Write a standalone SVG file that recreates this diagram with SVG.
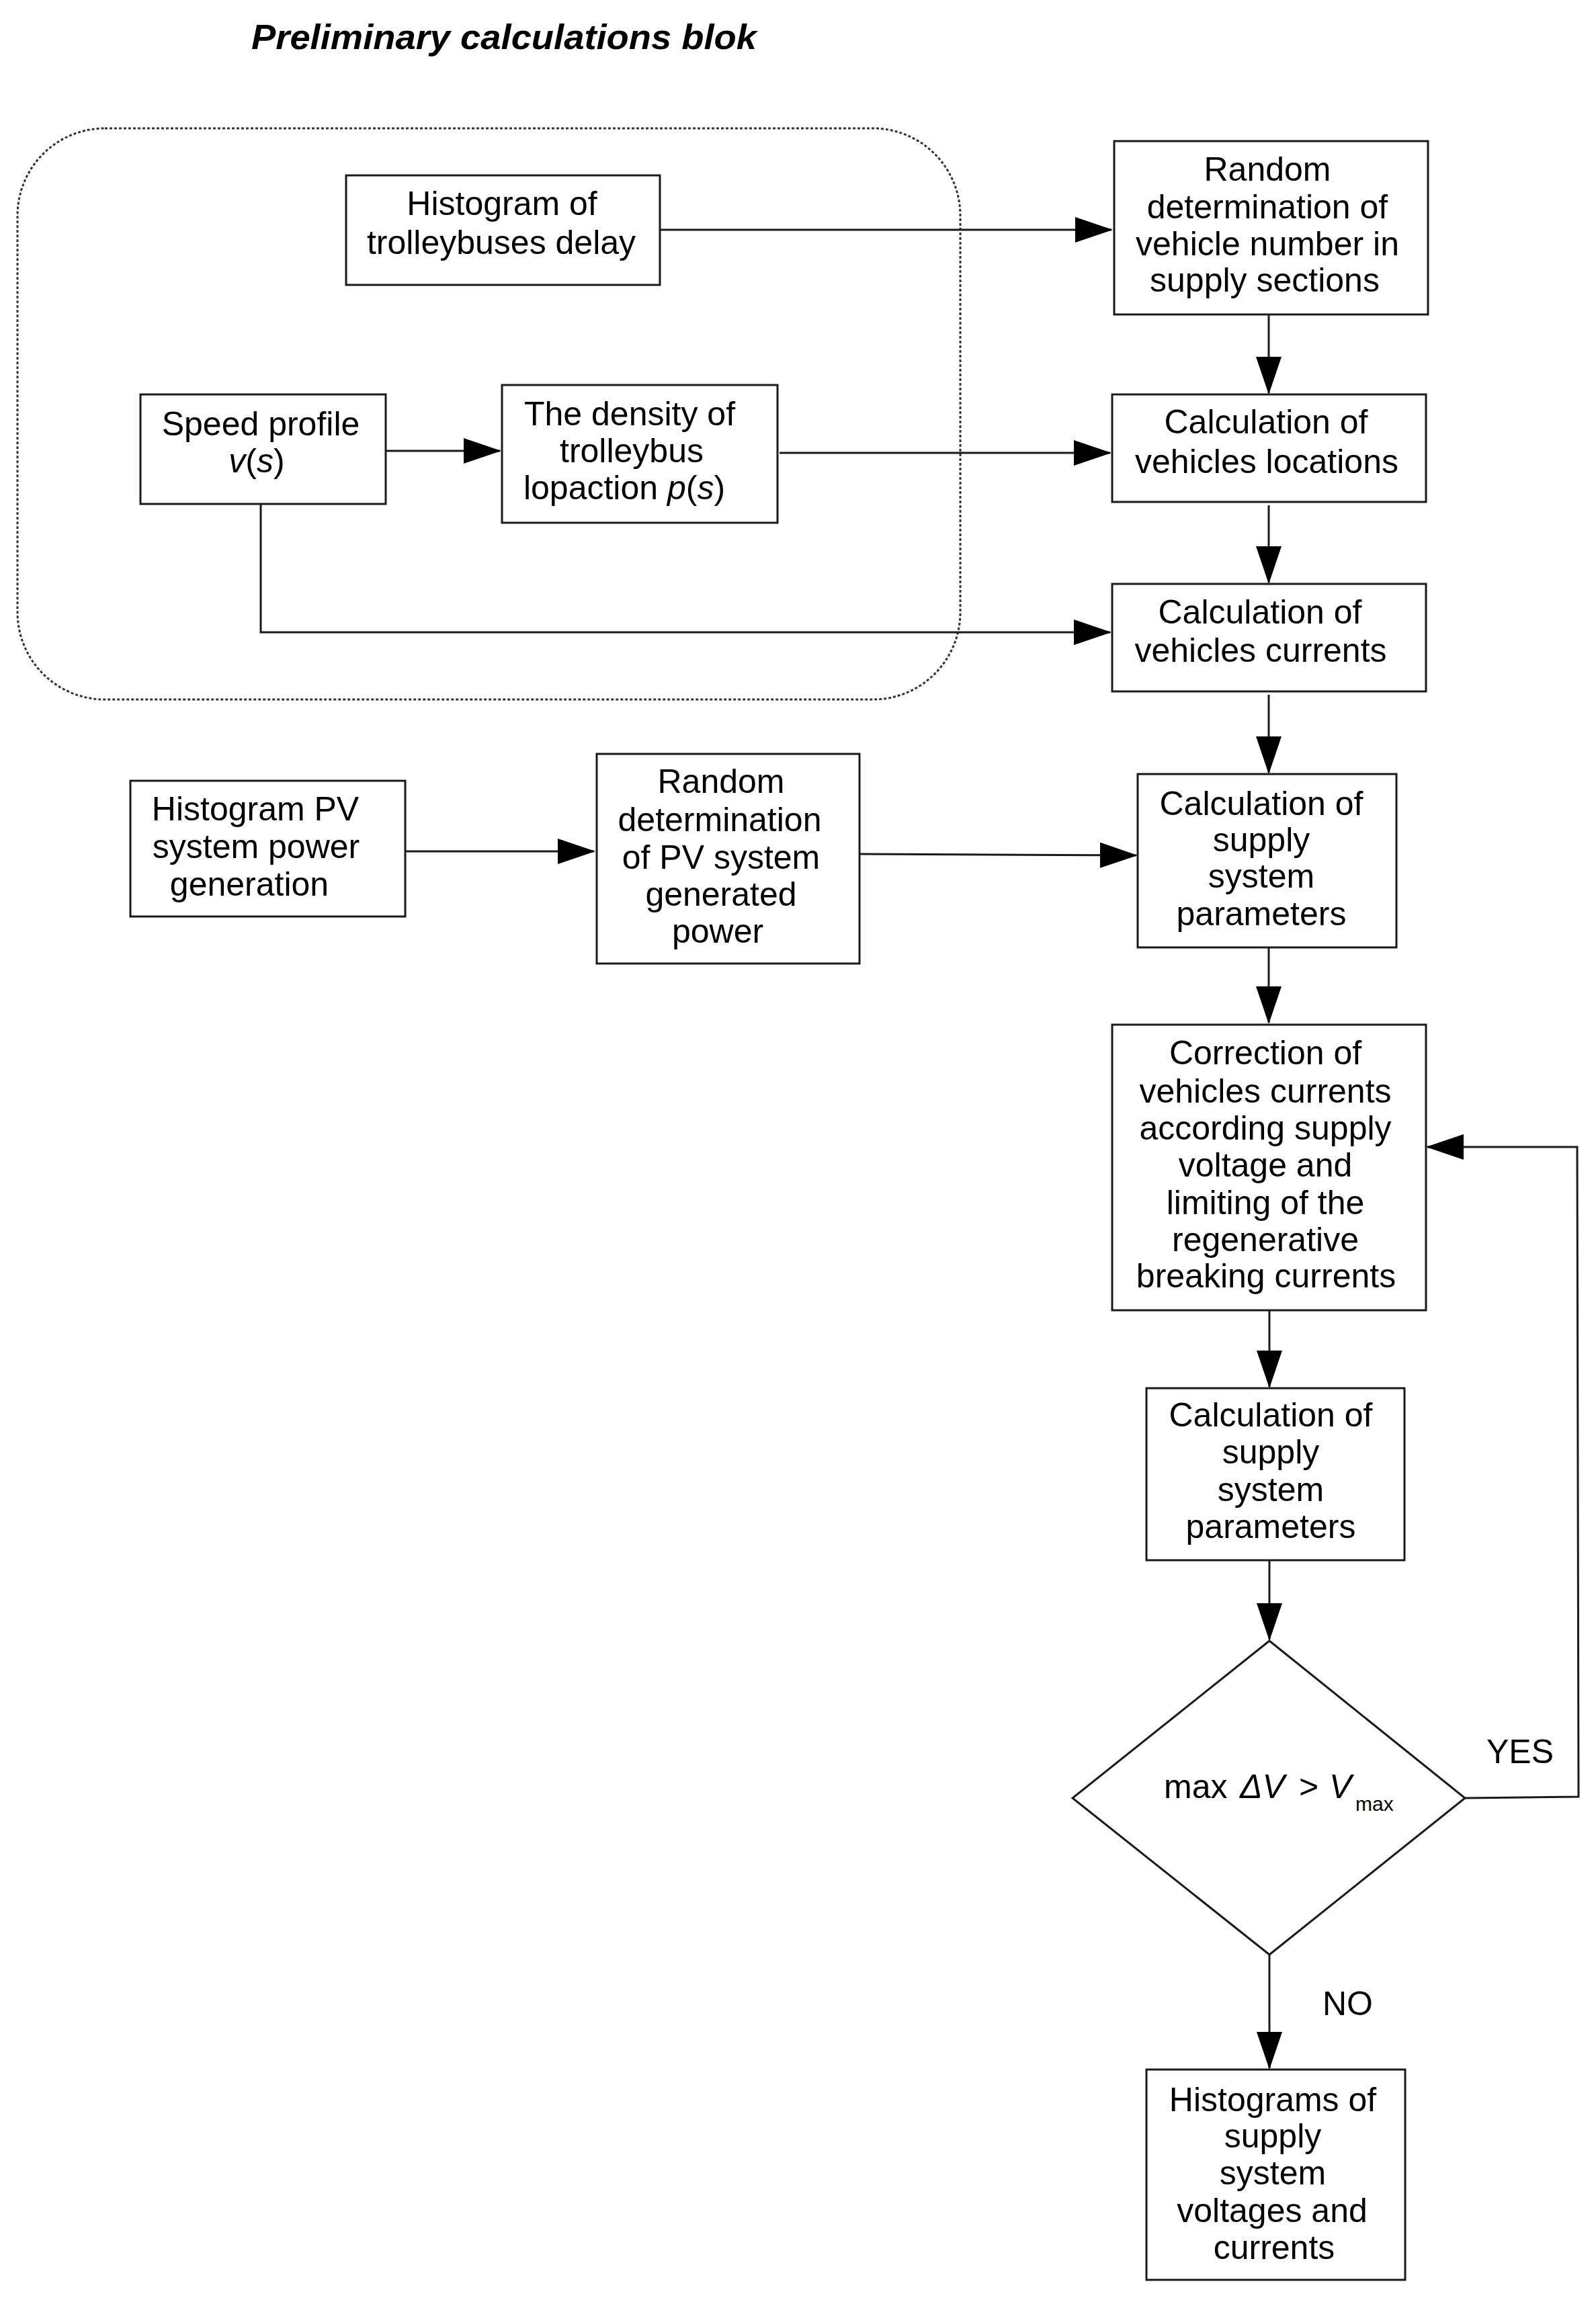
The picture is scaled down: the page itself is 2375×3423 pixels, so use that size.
<svg xmlns="http://www.w3.org/2000/svg" width="2375" height="3423" viewBox="0 0 2375 3423">
<style>
  .box { fill: #ffffff; stroke: #1a1a1a; stroke-width: 3; }
  .t { font-family: "Liberation Sans", Arial, sans-serif; font-size: 50px; fill: #000; text-anchor: middle; }
  .ts { font-family: "Liberation Sans", Arial, sans-serif; font-size: 50px; fill: #000; }
  .it { font-style: italic; }
  .ln { fill: none; stroke: #1a1a1a; stroke-width: 3; }
  .arr { marker-end: url(#ah); }
  .title { font-family: "Liberation Sans", Arial, sans-serif; font-size: 52px; font-weight: bold; font-style: italic; fill: #000; }
  .grp { fill: none; stroke: #333; stroke-width: 3; stroke-dasharray: 4 3; }
</style>
<defs>
  <marker id="ah" markerUnits="userSpaceOnUse" markerWidth="56" markerHeight="38" viewBox="0 0 56 38" refX="54" refY="19" orient="auto">
    <path d="M0,0 L56,19 L0,38 z" fill="#000"/>
  </marker>
</defs>
<rect width="2375" height="3423" fill="#ffffff"/>

<text class="title" x="374" y="73" textLength="752" lengthAdjust="spacingAndGlyphs">Preliminary calculations blok</text>

<g id="preliminary-group">
  <rect class="grp" x="26" y="191" width="1403" height="850" rx="130" ry="130"/>
</g>

<g id="connectors">
  <line class="ln arr" x1="982" y1="342" x2="1654" y2="342"/>
  <line class="ln arr" x1="1888" y1="469" x2="1888" y2="585"/>
  <line class="ln arr" x1="574" y1="671" x2="744" y2="671"/>
  <line class="ln arr" x1="1160" y1="674" x2="1652" y2="674"/>
  <line class="ln arr" x1="1888" y1="752" x2="1888" y2="867"/>
  <polyline class="ln arr" points="388,750 388,941 1652,941"/>
  <line class="ln arr" x1="1888" y1="1034" x2="1888" y2="1150"/>
  <line class="ln arr" x1="603" y1="1267" x2="884" y2="1267"/>
  <line class="ln arr" x1="1280" y1="1271" x2="1691" y2="1273"/>
  <line class="ln arr" x1="1888" y1="1410" x2="1888" y2="1522"/>
  <line class="ln arr" x1="1889" y1="1950" x2="1889" y2="2064"/>
  <line class="ln arr" x1="1889" y1="2322" x2="1889" y2="2440"/>
  <line class="ln arr" x1="1889" y1="2909" x2="1889" y2="3078"/>
  <polyline class="ln arr" points="2180,2676 2349,2674 2347,1707 2124,1707"/>
</g>

<g id="hist-delay">
  <rect class="box" x="515" y="261" width="467" height="163"/>
  <text class="t" x="747" y="320">Histogram of</text>
  <text class="t" x="746" y="378">trolleybuses delay</text>
</g>

<g id="random-vehicle-number">
  <rect class="box" x="1658" y="210" width="467" height="258"/>
  <text class="t" x="1886" y="269">Random</text>
  <text class="t" x="1886" y="325">determination of</text>
  <text class="t" x="1886" y="380">vehicle number in</text>
  <text class="t" x="1882" y="434">supply sections</text>
</g>

<g id="speed-profile">
  <rect class="box" x="209" y="587" width="365" height="163"/>
  <text class="t" x="388" y="648">Speed profile</text>
  <text class="t" x="382" y="703"><tspan class="it">v</tspan>(<tspan class="it">s</tspan>)</text>
</g>

<g id="density">
  <rect class="box" x="747" y="573" width="410" height="205"/>
  <text class="t" x="937" y="633">The density of</text>
  <text class="t" x="940" y="688">trolleybus</text>
  <text class="t" x="929" y="743">lopaction <tspan class="it">p</tspan>(<tspan class="it">s</tspan>)</text>
</g>

<g id="calc-locations">
  <rect class="box" x="1655" y="587" width="467" height="160"/>
  <text class="t" x="1884" y="645">Calculation of</text>
  <text class="t" x="1885" y="704">vehicles locations</text>
</g>

<g id="calc-currents">
  <rect class="box" x="1655" y="869" width="467" height="160"/>
  <text class="t" x="1875" y="928">Calculation of</text>
  <text class="t" x="1876" y="985">vehicles currents</text>
</g>

<g id="hist-pv">
  <rect class="box" x="194" y="1162" width="409" height="202"/>
  <text class="t" x="380" y="1221">Histogram PV</text>
  <text class="t" x="381" y="1277">system power</text>
  <text class="t" x="371" y="1333">generation</text>
</g>

<g id="random-pv">
  <rect class="box" x="888" y="1122" width="391" height="312"/>
  <text class="t" x="1073" y="1180">Random</text>
  <text class="t" x="1071" y="1237">determination</text>
  <text class="t" x="1073" y="1293">of PV system</text>
  <text class="t" x="1073" y="1348">generated</text>
  <text class="t" x="1068" y="1403">power</text>
</g>

<g id="calc-supply-1">
  <rect class="box" x="1693" y="1152" width="385" height="258"/>
  <text class="t" x="1877" y="1213">Calculation of</text>
  <text class="t" x="1877" y="1267">supply</text>
  <text class="t" x="1877" y="1321">system</text>
  <text class="t" x="1877" y="1377">parameters</text>
</g>

<g id="correction">
  <rect class="box" x="1655" y="1525" width="467" height="425"/>
  <text class="t" x="1883" y="1584">Correction of</text>
  <text class="t" x="1883" y="1641">vehicles currents</text>
  <text class="t" x="1883" y="1696">according supply</text>
  <text class="t" x="1883" y="1751">voltage and</text>
  <text class="t" x="1883" y="1807">limiting of the</text>
  <text class="t" x="1883" y="1862">regenerative</text>
  <text class="t" x="1884" y="1916">breaking currents</text>
</g>

<g id="calc-supply-2">
  <rect class="box" x="1706" y="2066" width="384" height="256"/>
  <text class="t" x="1891" y="2123">Calculation of</text>
  <text class="t" x="1891" y="2178">supply</text>
  <text class="t" x="1891" y="2234">system</text>
  <text class="t" x="1891" y="2289">parameters</text>
</g>

<g id="decision">
  <polygon class="box" points="1889,2442 2180,2676 1889,2909 1596,2676"/>
  <text class="ts" x="1732" y="2676">max <tspan class="it" x="1845">ΔV</tspan><tspan x="1933">&gt;</tspan><tspan class="it" x="1978">V</tspan><tspan font-size="30" x="2017" dy="19">max</tspan></text>
</g>

<g id="final-histograms">
  <rect class="box" x="1706" y="3080" width="385" height="313"/>
  <text class="t" x="1894" y="3142">Histograms of</text>
  <text class="t" x="1894" y="3196">supply</text>
  <text class="t" x="1894" y="3251">system</text>
  <text class="t" x="1893" y="3307">voltages and</text>
  <text class="t" x="1896" y="3362">currents</text>
</g>

<g id="labels">
  <text class="ts" x="2212" y="2624">YES</text>
  <text class="ts" x="1968" y="2999">NO</text>
</g>
</svg>
